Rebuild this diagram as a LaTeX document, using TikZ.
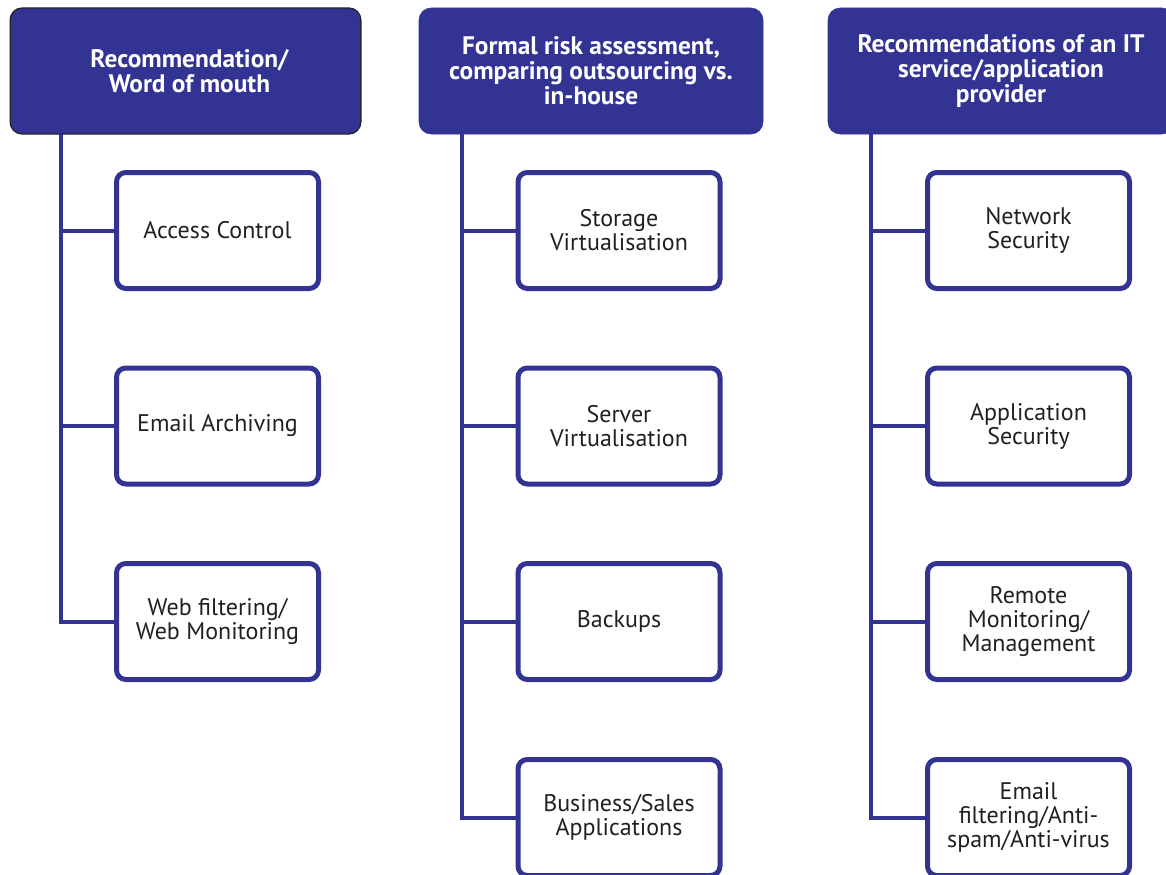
\documentclass[tikz,border=0pt]{standalone}
\usepackage{fontspec}
\setmainfont{PT Sans}
\usetikzlibrary{calc}
\definecolor{navy}{RGB}{51,51,147}
\definecolor{ink}{RGB}{35,31,32}
\begin{document}
\begin{tikzpicture}[x=0.75pt,y=-0.75pt,
  header/.style={rectangle, rounded corners=9pt, fill=navy, draw=navy,
    minimum width=263pt, minimum height=94.5pt, align=center,
    text=white, font=\fontsize{19}{18.75}\selectfont\bfseries, inner sep=0pt},
  item/.style={rectangle, rounded corners=7pt, draw=navy, line width=3.75pt,
    fill=white, minimum width=151.5pt, minimum height=87pt, align=center,
    text=ink, font=\fontsize{18}{18}\selectfont, inner sep=0pt},
  conn/.style={draw=navy, line width=3pt}]
\clip (0,0) rectangle (1166,874);
\fill[white] (0,0) rectangle (1166,874);

% column headers
\node[header, draw=black!85, line width=1pt, text depth=0pt, xshift=0pt] (h1) at (185.5,71) {\hspace*{6pt}Recommendation/\\\hspace*{6pt}Word of mouth};
\node[header, minimum width=258pt] (h2) at (591,71) {Formal risk assessment,\\comparing outsourcing vs.\\in-house};
\node[header, minimum width=259.5pt] (h3) at (1001,71) {Recommendations of an IT\\service/application\\provider};

% trunk start points under each header
\coordinate (t1) at (61,134);
\coordinate (t2) at (462,134);
\coordinate (t3) at (871,134);

% first column
\node[item] (a1) at (217.5,230.5) {Access Control};
\node[item] (a2) at (217.5,426) {Email Archiving};
\node[item] (a3) at (217.5,621.5) {Web filtering/\\Web Monitoring};

% second column
\node[item] (b1) at (619,230.5) {Storage\\Virtualisation};
\node[item] (b2) at (619,426) {Server\\Virtualisation};
\node[item] (b3) at (619,621.5) {Backups};
\node[item] (b4) at (619,817.5) {Business/Sales\\Applications};

% third column
\node[item] (c1) at (1028.5,230.5) {Network\\Security};
\node[item] (c2) at (1028.5,426) {Application\\Security};
\node[item] (c3) at (1028.5,621.5) {Remote\\Monitoring/\\Management};
\node[item] (c4) at (1028.5,817.5) {Email\\filtering/Anti-\\spam/Anti-virus};

% connectors: one trunk per column, one branch per box
\draw[conn] (t1) |- (a3.west);
\draw[conn] (a1.west) -- (a1.west -| t1);
\draw[conn] (a2.west) -- (a2.west -| t1);

\draw[conn] (t2) |- (b4.west);
\draw[conn] (b1.west) -- (b1.west -| t2);
\draw[conn] (b2.west) -- (b2.west -| t2);
\draw[conn] (b3.west) -- (b3.west -| t2);

\draw[conn] (t3) |- (c4.west);
\draw[conn] (c1.west) -- (c1.west -| t3);
\draw[conn] (c2.west) -- (c2.west -| t3);
\draw[conn] (c3.west) -- (c3.west -| t3);
\end{tikzpicture}
\end{document}
